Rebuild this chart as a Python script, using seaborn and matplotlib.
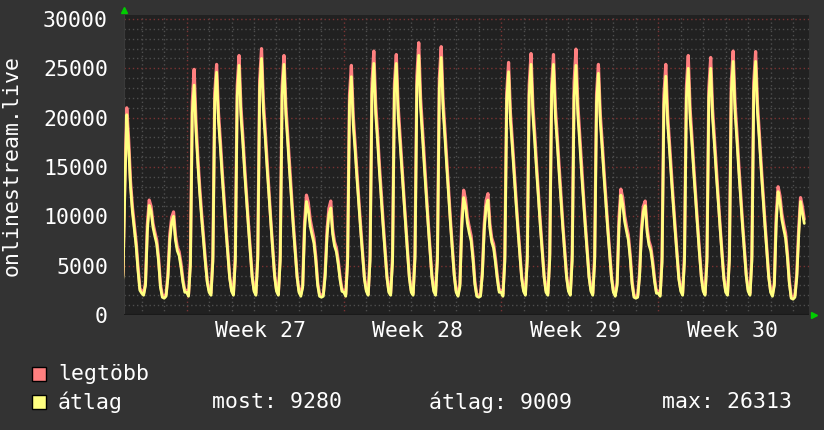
import numpy as np
import pandas as pd
import seaborn as sns
import matplotlib.pyplot as plt
from matplotlib.patches import Rectangle

# ============ Data (2-hour samples, one row per day, day 0 = Monday of week 27) ============
avg_days = [
    [2500, 2100, 4000, 13000, 20300, 17000, 13000, 10500, 8800, 7000, 4500, 2500],      # -3 Fri
    [2200, 2000, 3000, 8500, 11100, 10500, 8900, 8000, 7200, 5400, 2800, 1800],         # -2 Sat
    [1700, 1900, 3800, 7600, 9400, 10000, 7600, 6500, 6000, 4800, 3300, 2300],          # -1 Sun
    [2300, 1900, 5000, 20500, 23300, 18600, 15200, 12300, 9800, 7500, 5300, 3300],      # 0
    [2300, 2000, 5400, 21600, 24600, 19700, 17000, 14000, 11300, 8600, 6100, 3700],
    [2400, 2000, 5500, 22200, 25300, 20200, 17500, 14400, 11600, 8900, 6300, 3800],
    [2400, 2000, 5600, 22900, 26000, 20800, 17900, 14800, 12000, 9100, 6500, 3900],
    [2400, 2000, 5500, 22300, 25400, 20300, 17500, 14500, 11700, 8900, 6300, 3800],
    [2300, 1900, 2800, 8600, 11500, 10600, 9000, 8100, 7300, 5500, 3000, 1900],         # 5 Sat
    [1800, 1900, 3900, 8000, 10200, 10850, 8200, 7000, 6400, 5100, 3500, 2400],         # 6 Sun
    [2300, 1900, 5300, 21300, 24150, 19300, 16700, 13800, 11100, 8500, 6000, 3600],     # 7
    [2400, 2000, 5500, 22400, 25500, 20400, 17600, 14500, 11700, 8900, 6400, 3800],
    [2300, 2000, 5400, 22500, 25500, 20300, 17500, 14600, 11800, 9000, 6300, 3700],
    [2300, 2000, 5700, 23100, 26313, 21000, 18100, 15000, 12100, 9200, 6600, 3900],
    [2400, 2000, 5600, 23000, 26100, 20900, 18000, 14900, 12000, 9100, 6500, 3900],
    [2300, 1900, 2900, 8900, 11900, 11000, 9300, 8300, 7500, 5600, 3100, 1900],         # 12 Sat
    [1800, 1900, 4100, 8600, 11000, 11650, 8800, 7400, 6800, 5300, 3600, 2300],         # 13 Sun
    [2300, 1900, 5400, 21700, 24650, 19700, 17000, 14100, 11300, 8600, 6200, 3700],     # 14
    [2400, 2000, 5500, 22300, 25400, 20300, 17500, 14500, 11700, 8900, 6300, 3800],
    [2300, 2000, 5600, 22400, 25400, 20200, 17400, 14400, 11600, 8800, 6300, 3800],
    [2400, 2000, 5500, 22200, 25300, 20300, 17500, 14400, 11600, 8900, 6300, 3800],
    [2400, 2000, 5400, 21500, 24500, 19600, 16900, 14000, 11300, 8600, 6100, 3700],
    [2300, 1900, 3000, 9000, 12150, 11200, 9500, 8500, 7600, 5700, 3100, 1800],         # 19 Sat
    [1700, 1800, 3900, 8200, 10500, 11080, 8400, 7100, 6500, 5100, 3400, 2200],         # 20 Sun
    [2200, 1900, 5300, 21300, 24200, 19400, 16700, 13800, 11100, 8500, 6000, 3600],     # 21
    [2400, 2000, 5500, 22000, 25000, 20000, 17300, 14300, 11500, 8800, 6200, 3800],
    [2400, 2000, 5400, 22000, 25000, 20000, 17200, 14200, 11500, 8700, 6200, 3700],
    [2300, 2000, 5600, 22600, 25700, 20600, 17700, 14600, 11800, 9000, 6400, 3900],
    [2400, 2000, 5500, 22600, 25700, 20500, 17700, 14600, 11800, 9000, 6400, 3800],
    [2300, 1900, 3000, 9300, 12500, 11500, 9700, 8700, 7800, 5800, 3200, 1700],         # 26 Sat
    [1600, 1800, 3800, 8000, 11500, 10400, 9280],                                       # 27 Sun (partial)
]

max_days = [
    [2700, 2300, 4400, 14000, 21000, 17800, 13600, 11000, 9200, 7400, 4900, 2700],
    [2400, 2200, 3300, 9200, 11650, 11000, 9300, 8400, 7600, 5800, 3100, 2000],
    [1900, 2100, 4200, 8200, 9900, 10450, 8100, 6900, 6400, 5200, 3600, 2500],
    [2500, 2100, 5600, 21600, 24900, 19500, 15900, 12900, 10300, 7900, 5600, 3500],
    [2500, 2200, 6000, 22500, 25400, 20500, 17700, 14600, 11800, 9000, 6400, 3900],
    [2600, 2200, 6100, 23200, 26300, 21100, 18200, 15000, 12100, 9300, 6600, 4000],
    [2600, 2200, 6200, 23800, 27000, 21700, 18600, 15400, 12500, 9500, 6800, 4100],
    [2600, 2200, 6100, 23200, 26300, 21200, 18200, 15100, 12200, 9300, 6600, 4000],
    [2500, 2100, 3100, 9400, 12150, 11400, 9700, 8700, 7800, 5900, 3300, 2100],
    [2000, 2100, 4300, 8600, 10800, 11550, 8700, 7400, 6800, 5500, 3800, 2600],
    [2500, 2100, 5900, 22300, 25300, 20200, 17400, 14400, 11600, 8900, 6300, 3800],
    [2600, 2200, 6100, 23500, 26750, 21400, 18400, 15200, 12300, 9400, 6700, 4000],
    [2500, 2200, 6000, 23400, 26400, 21200, 18200, 15200, 12300, 9400, 6600, 3900],
    [2500, 2200, 6300, 24200, 27600, 22000, 18900, 15700, 12600, 9600, 6900, 4100],
    [2600, 2200, 6200, 24000, 27200, 21800, 18700, 15500, 12500, 9500, 6800, 4100],
    [2500, 2100, 3200, 9800, 12650, 11700, 9900, 8900, 8000, 6000, 3400, 2100],
    [2000, 2100, 4500, 9200, 11600, 12300, 9300, 7800, 7200, 5700, 3900, 2500],
    [2500, 2100, 6000, 22500, 25600, 20500, 17700, 14700, 11800, 9000, 6500, 3900],
    [2600, 2200, 6100, 23300, 26500, 21200, 18300, 15100, 12200, 9300, 6600, 4000],
    [2500, 2200, 6200, 23300, 26400, 21100, 18100, 15000, 12100, 9200, 6600, 4000],
    [2600, 2200, 6200, 23600, 26950, 21400, 18300, 15100, 12200, 9300, 6600, 4000],
    [2600, 2200, 6000, 22400, 25400, 20400, 17600, 14600, 11800, 9000, 6400, 3900],
    [2500, 2100, 3300, 9900, 12750, 11900, 10100, 9000, 8100, 6100, 3400, 2000],
    [1900, 2000, 4300, 8800, 11000, 11550, 8900, 7500, 6900, 5500, 3700, 2400],
    [2400, 2100, 5900, 22300, 25400, 20300, 17400, 14400, 11600, 8900, 6300, 3800],
    [2600, 2200, 6100, 23100, 26300, 20900, 18000, 14900, 12000, 9200, 6500, 4000],
    [2600, 2200, 6000, 23000, 26100, 20900, 17900, 14800, 12000, 9100, 6500, 3900],
    [2500, 2200, 6200, 23600, 26750, 21500, 18500, 15300, 12300, 9400, 6700, 4100],
    [2600, 2200, 6100, 23600, 26700, 21400, 18400, 15200, 12300, 9400, 6700, 4000],
    [2500, 2100, 3300, 10100, 13000, 12100, 10300, 9200, 8300, 6200, 3500, 1900],
    [1800, 2000, 4200, 8700, 11900, 11000, 9700],
]

first_day = -3
week_labels = ["Week 27", "Week 28", "Week 29", "Week 30"]
y_label = "onlinestream.live"
legend_max = "legtöbb"
legend_avg = "átlag"
stats = ["most: 9280", "átlag: 9009", "max: 26313"]

# ============ DataFrame ============
avg_vals = [v for day in avg_days for v in day]
max_vals = [v for day in max_days for v in day]
t = first_day + np.arange(len(avg_vals)) / 12.0
df = pd.DataFrame({"t": t, "legtöbb": max_vals, "átlag": avg_vals})

# ============ style ============
BG = "#333333"
CANVAS = "#212121"
RED = "#ff8080"
YEL = "#ffff80"
sns.set_theme(style="dark", rc={"figure.facecolor": BG, "axes.facecolor": CANVAS})
plt.rcParams['font.family'] = ['DejaVu Sans Mono', 'DejaVu Sans']
FS = 15.5

W, H = 824, 430
fig = plt.figure(figsize=(W / 100, H / 100), dpi=100)
ax = fig.add_axes([124 / W, (H - 315) / H, 685 / W, 300 / H])

# ============ grid ============
for d in range(-2, 28):
    major = d % 7 == 0
    ax.axvline(d, color="#7a3434" if major else "#4e4e4e", lw=1.0,
               ls=(0, (1, 2)), zorder=1)
for v in range(1000, 31000, 1000):
    major = v % 5000 == 0
    ax.axhline(v, color="#7a3434" if major else "#4e4e4e", lw=1.0,
               ls=(0, (1, 2)), zorder=1)

# ============ lines ============
sns.lineplot(data=df, x="t", y="legtöbb", ax=ax, color=RED, lw=2.3, zorder=3)
sns.lineplot(data=df, x="t", y="átlag", ax=ax, color=YEL, lw=2.0, zorder=4)

ax.set_xlim(-2.79, 27.71)
ax.set_ylim(0, 30405)
ax.set_yticks(range(0, 30001, 5000))
ax.set_yticklabels([str(v) for v in range(0, 30001, 5000)])
ax.set_xticks([3.3 + 7 * i for i in range(len(week_labels))])
ax.set_xticklabels(week_labels)
ax.tick_params(axis="both", length=0, labelsize=FS, colors="white")
ax.tick_params(axis="y", pad=11.5)
ax.tick_params(axis="x", pad=4.5)
ax.set_xlabel("")
ax.set_ylabel("")
for s in ax.spines.values():
    s.set_visible(False)
ax.axvline(-2.79, color="#3a3a3a", lw=1.5, zorder=2)
ax.axhline(0, color="#1a1a1a", lw=1.5, zorder=2)

# axis arrows
fig.lines.append(plt.Line2D([124.5 / W], [(H - 10) / H], marker="^", color="#00cc00",
                            ms=5, transform=fig.transFigure))
fig.lines.append(plt.Line2D([814 / W], [(H - 315) / H], marker=">", color="#00cc00",
                            ms=5, transform=fig.transFigure))

# y label
fig.text(12 / W, (H - 166) / H, y_label, rotation=90, color="white",
         fontsize=FS, ha="center", va="center")

# ============ legend ============
for (yc, col, lab) in [(374, RED, legend_max), (402, YEL, legend_avg)]:
    fig.patches.append(Rectangle((32 / W, (H - yc - 7) / H), 14 / W, 14 / H,
                                 transform=fig.transFigure, facecolor=col,
                                 edgecolor="black", lw=1))
    fig.text(58 / W, (H - yc) / H, lab, color="white", fontsize=FS,
             ha="left", va="center")
for xs, s in zip([212, 429, 662], stats):
    fig.text(xs / W, (H - 402) / H, s, color="white", fontsize=FS,
             ha="left", va="center")

fig.savefig("out.png", dpi=100, facecolor=BG)
